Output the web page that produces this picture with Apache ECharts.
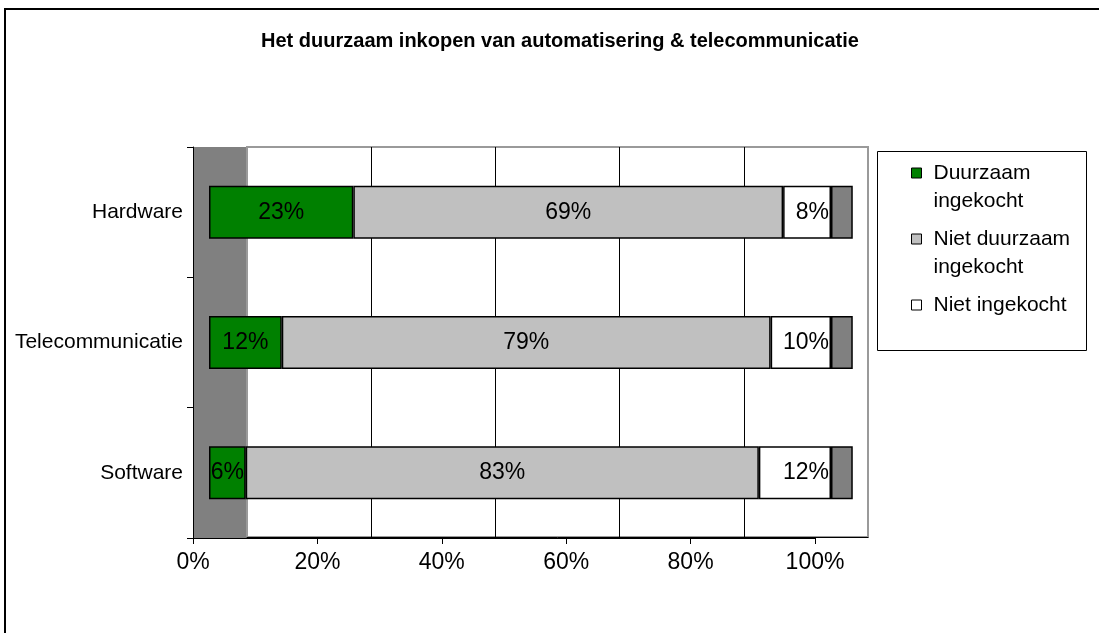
<!DOCTYPE html>
<html>
<head>
<meta charset="utf-8">
<title>Het duurzaam inkopen</title>
<script src="https://cdn.jsdelivr.net/npm/echarts@6/dist/echarts.min.js"></script>
<style>
    html, body { margin: 0; padding: 0; background: #fff; }
    #main { width: 1099px; height: 633px; }
</style>
</head>
<body>
<div id="main"></div>
<script>
// 分类（从上到下）
var categories = ['Hardware', 'Telecommunicatie', 'Software'];
// 系列名称
var seriesNames = ['Duurzaam ingekocht', 'Niet duurzaam ingekocht', 'Niet ingekocht'];
// 图例文字（两行）
var legendTexts = ['Duurzaam\ningekocht', 'Niet duurzaam\ningekocht', 'Niet ingekocht'];
// 数值 (%)
var duurzaam = [23.2, 11.7, 5.9];
var nietDuurzaam = [69.1, 78.6, 82.5];
var nietIngekocht = [7.7, 9.7, 11.6];
// 3D 侧面厚度
var depth = [3.5, 3.5, 3.5];
// x轴刻度
var xTicks = [0, 20, 40, 60, 80, 100];

var font = "'Liberation Sans', Arial, sans-serif";
var myChart = echarts.init(document.getElementById('main'));

function pct(p) {
    return Math.round(p.value) + '%';
}

function barSeries(name, data, color, labelPos) {
    return {
        name: name,
        type: 'bar',
        stack: 'totaal',
        xAxisIndex: 2,
        yAxisIndex: 2,
        barWidth: 53,
        clip: false,
        data: data,
        itemStyle: { color: color, borderColor: '#000', borderWidth: 1.5 },
        label: {
            show: true,
            position: labelPos,
            distance: 2,
            formatter: pct,
            color: '#000',
            fontFamily: font,
            fontSize: 23
        }
    };
}

// 单独的图例（图标对齐第一行：两行文字前面加一个空行）
function legendAt(i, top) {
    var twoLines = legendTexts[i].indexOf('\n') >= 0;
    var txt = twoLines ? '\n' + legendTexts[i] : legendTexts[i];
    return {
        data: [seriesNames[i]],
        left: 911,
        top: top,
        padding: 0,
        icon: 'rect',
        itemWidth: 10,
        itemHeight: 10,
        itemStyle: { borderColor: '#000', borderWidth: 1 },
        formatter: function() { return txt; },
        textStyle: {
            fontFamily: font,
            fontSize: 21,
            lineHeight: 28,
            color: '#000',
            padding: [0, 0, 0, 7]
        },
        selectedMode: false
    };
}

let option = {
    backgroundColor: '#fff',
    animation: false,
    title: {
        text: 'Het duurzaam inkopen van automatisering & telecommunicatie',
        left: 560,
        textAlign: 'center',
        top: 31,
        padding: 0,
        textStyle: { fontFamily: font, fontSize: 20, fontWeight: 'bold', color: '#000' }
    },
    legend: [legendAt(0, 131), legendAt(1, 197), legendAt(2, 291)],
    graphic: [
        // 外框
        { type: 'rect', z: -20, shape: { x: 5, y: 9, width: 1110, height: 650 },
          style: { fill: null, stroke: '#000', lineWidth: 2 } },
        // 左侧灰色墙
        { type: 'rect', z: -10, shape: { x: 193, y: 147, width: 54, height: 391 },
          style: { fill: '#808080' } },
        // 图例框
        { type: 'rect', z: -10, shape: { x: 877.5, y: 151.5, width: 209, height: 199 },
          style: { fill: '#fff', stroke: '#000', lineWidth: 1 } }
    ],
    grid: [
        // 0: 背墙
        { left: 247, top: 147, width: 621, height: 390, show: true,
          backgroundColor: '#fff', borderColor: '#9a9a9a', borderWidth: 2 },
        // 1: 前面的坐标轴
        { left: 193, top: 147, width: 622, height: 391 },
        // 2: 条形
        { left: 209, top: 147, width: 622, height: 391 }
    ],
    xAxis: [{
        gridIndex: 0,
        type: 'value', min: 0, max: 100, interval: 20,
        axisLabel: { show: false },
        axisTick: { show: false },
        axisLine: { show: true, lineStyle: { color: '#000', width: 1 } },
        splitLine: { show: true, showMinLine: false, showMaxLine: false,
                     lineStyle: { color: '#000', width: 1 } }
    }, {
        gridIndex: 1,
        type: 'value', min: xTicks[0], max: xTicks[xTicks.length - 1], interval: 20,
        axisLine: { show: true, lineStyle: { color: '#000', width: 1 } },
        axisTick: { show: true, length: 6, lineStyle: { color: '#000' } },
        axisLabel: { formatter: '{value}%', margin: 13, color: '#000',
                     fontFamily: font, fontSize: 23 },
        splitLine: { show: false }
    }, {
        gridIndex: 2,
        type: 'value', min: 0, max: 100, show: false
    }],
    yAxis: [{
        gridIndex: 0, type: 'value', show: false
    }, {
        gridIndex: 1,
        type: 'category',
        inverse: true,
        data: categories,
        axisLine: { show: true, lineStyle: { color: '#000', width: 1 } },
        axisTick: { show: true, length: 6, lineStyle: { color: '#000' } },
        axisLabel: { margin: 10, color: '#000', fontFamily: font, fontSize: 21 },
        splitLine: { show: false }
    }, {
        gridIndex: 2,
        type: 'category',
        inverse: true,
        data: categories,
        show: false
    }],
    series: [
        barSeries(seriesNames[0], duurzaam, '#008000', 'inside'),
        barSeries(seriesNames[1], nietDuurzaam, '#c0c0c0', 'inside'),
        barSeries(seriesNames[2], nietIngekocht, '#ffffff', 'insideRight'),
        // 3D 侧面
        {
            name: 'diepte',
            type: 'bar',
            stack: 'totaal',
            xAxisIndex: 2,
            yAxisIndex: 2,
            barWidth: 53,
            clip: false,
            data: depth,
            itemStyle: { color: '#808080', borderColor: '#000', borderWidth: 1.5 },
            silent: true
        }
    ]
};

myChart.setOption(option);
</script>
</body>
</html>
